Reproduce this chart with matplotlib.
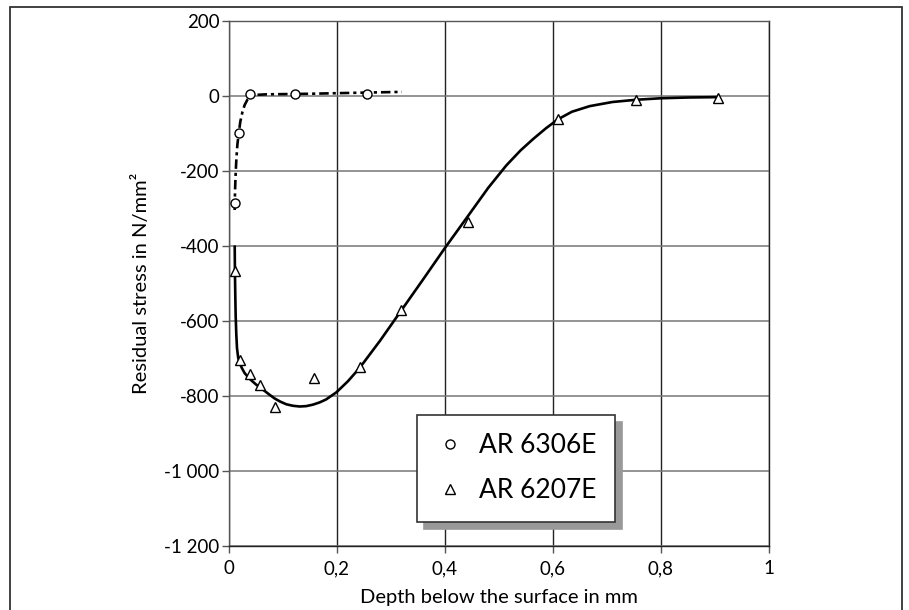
import matplotlib
matplotlib.use("Agg")
import matplotlib.pyplot as plt
from matplotlib.patches import Rectangle
from matplotlib.ticker import FuncFormatter

plt.rcParams['font.family'] = ['Lato', 'DejaVu Sans']

# measured points
depth_6306 = [0.0106, 0.018, 0.0383, 0.122, 0.255]
stress_6306 = [-286, -99, 5, 5, 6]

depth_6207 = [0.0106, 0.0198, 0.0396, 0.058, 0.0846, 0.157, 0.242, 0.319, 0.4426, 0.6094, 0.7544, 0.9056]
stress_6207 = [-466, -704, -741, -771, -828, -753, -722, -571, -335, -60, -11, -4]

# fitted trend curves
fit_x_6306 = [0.0105, 0.0108, 0.0115, 0.0125, 0.0138, 0.0155, 0.018, 0.021, 0.025, 0.029,
              0.034, 0.04, 0.05, 0.07, 0.1, 0.15, 0.2, 0.25, 0.32]
fit_y_6306 = [-304, -275, -240, -200, -165, -130, -99, -68, -42, -24,
              -10, -1, 3, 4.5, 5, 6, 7.5, 9, 11]

fit_x_6207 = [0.0106, 0.0108, 0.0112, 0.0118, 0.0124, 0.0135, 0.0148, 0.017, 0.0198, 0.024,
              0.029, 0.0345, 0.0396, 0.045, 0.0507, 0.058, 0.0665, 0.0754, 0.085, 0.095,
              0.106, 0.118, 0.131, 0.143, 0.1556, 0.168, 0.18, 0.199, 0.22, 0.242,
              0.28, 0.319, 0.36, 0.4, 0.4426, 0.48, 0.5136, 0.54, 0.563, 0.587,
              0.6094, 0.635, 0.668, 0.71, 0.7544, 0.8, 0.85, 0.9056]
fit_y_6207 = [-402, -440, -490, -545, -588, -635, -672, -698, -712, -726,
              -739, -748, -756, -763, -770, -778, -787, -797, -807, -815,
              -822, -826, -828, -827, -823, -817, -809, -790, -761, -725,
              -652, -572, -488, -405, -320, -245, -185, -145, -115, -86,
              -62, -42, -27, -16, -10, -6, -4, -3]

xticks = [0, 0.2, 0.4, 0.6, 0.8, 1.0]
yticks = [200, 0, -200, -400, -600, -800, -1000, -1200]


def fmt_x(v, pos):
    if abs(v - round(v)) < 1e-9:
        return str(int(round(v)))
    return ("%.1f" % v).replace(".", ",")


def fmt_y(v, pos):
    n = int(round(v))
    s = "{:,}".format(abs(n)).replace(",", " ")
    return ("-" if n < 0 else "") + s


fig = plt.figure(figsize=(9.09, 6.10), dpi=100)
ax = fig.add_axes([229 / 909, 1 - 546 / 610, 540 / 909, 525 / 610])

ax.set_xlim(0, 1)
ax.set_ylim(-1200, 200)
ax.set_xticks(xticks)
ax.set_yticks(yticks)
ax.xaxis.set_major_formatter(FuncFormatter(fmt_x))
ax.yaxis.set_major_formatter(FuncFormatter(fmt_y))
ax.tick_params(direction='out', length=5, width=1, colors='#555555', labelcolor='black',
               labelsize=13.5)
ax.tick_params(axis='x', pad=5)
ax.tick_params(axis='y', pad=2)

ax.xaxis.grid(True, color='#222222', lw=1)
ax.yaxis.grid(True, color='#777777', lw=1.1)
ax.set_axisbelow(True)
for side in ['left', 'bottom', 'right', 'top']:
    ax.spines[side].set_color('#555555')
    ax.spines[side].set_linewidth(1)
ax.spines['bottom'].set_color('#222222')
ax.spines['right'].set_color('#222222')

ax.plot(fit_x_6306, fit_y_6306, color='black', lw=1.9, linestyle=(0, (3.6, 1.5, 1.2, 1.5)),
        solid_capstyle='butt', zorder=3)
ax.plot(fit_x_6207, fit_y_6207, color='black', lw=1.9, zorder=3)

ax.plot(depth_6306, stress_6306, linestyle='none', marker='o', ms=6.5, mfc='white',
        mec='black', mew=1, zorder=4, label='AR 6306E')
ax.plot(depth_6207, stress_6207, linestyle='none', marker='^', ms=7.5, mfc='white',
        mec='black', mew=1, zorder=4, label='AR 6207E')

ax.set_xlabel('Depth below the surface in mm', fontsize=14.5, labelpad=8.5)
ax.set_ylabel('Residual stress in N/mm²', fontsize=14.5, labelpad=10)

leg = ax.legend(loc='upper left', bbox_to_anchor=(417 / 909, 1 - 415 / 610),
                bbox_transform=fig.transFigure, fontsize=19, frameon=True,
                fancybox=False, edgecolor='#333333', framealpha=1,
                shadow={'color': '#999999', 'alpha': 1, 'ox': 5, 'oy': -5},
                borderpad=0.7, labelspacing=0.75, handlelength=1.1, handletextpad=0.55,
                borderaxespad=0, markerscale=1.0)
leg.get_frame().set_linewidth(1.2)
leg.set_zorder(10)

# outer frame around the whole chart
fig.patches.append(Rectangle((10 / 909, -0.05), 892 / 909, 1.05 - 7 / 610,
                             transform=fig.transFigure, fill=False,
                             edgecolor='#333333', lw=1.3))

fig.savefig('out.png', dpi=100)
